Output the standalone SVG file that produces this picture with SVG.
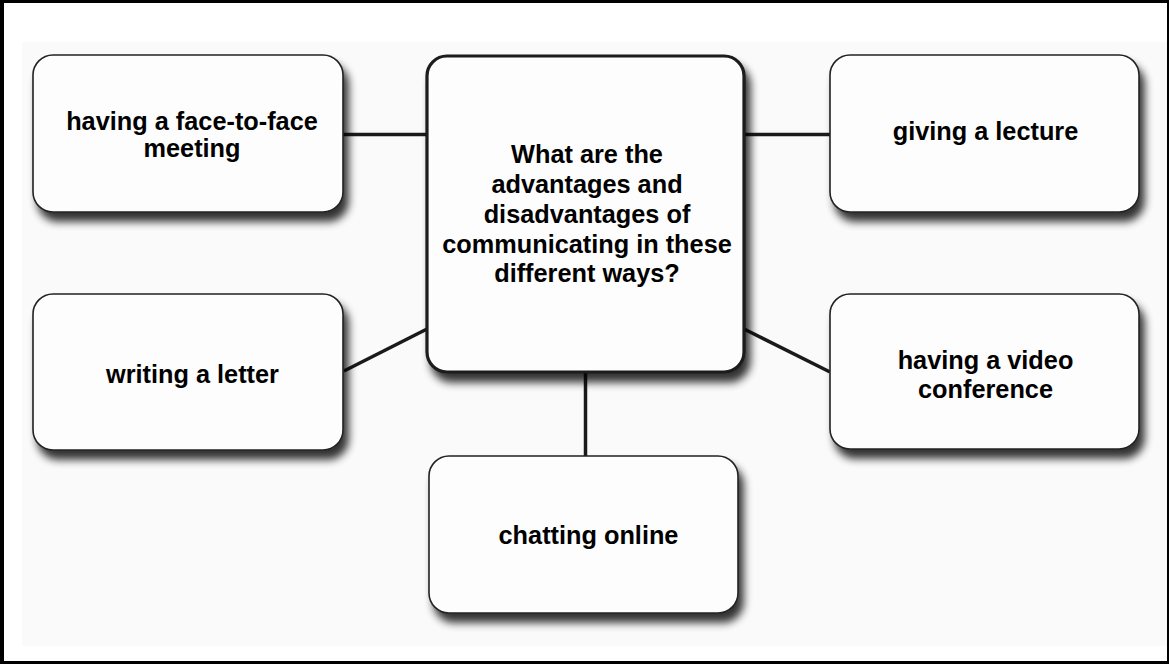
<svg xmlns="http://www.w3.org/2000/svg" width="1169" height="664" viewBox="0 0 1169 664">
<defs>
<filter id="shadow" x="-10%" y="-10%" width="130%" height="140%">
<feGaussianBlur in="SourceAlpha" stdDeviation="4.5"/>
<feOffset dx="5" dy="9" result="b"/>
<feComponentTransfer><feFuncA type="linear" slope="0.8"/></feComponentTransfer>
<feMerge><feMergeNode/><feMergeNode in="SourceGraphic"/></feMerge>
</filter>
<style>
.node{fill:#fdfdfd;stroke:#222;stroke-width:1.6;filter:url(#shadow)}
.main{fill:#fdfdfd;stroke:#1a1a1a;stroke-width:3.2;filter:url(#shadow)}
.lbl{font-family:"Liberation Sans",Arial,sans-serif;font-weight:bold;font-size:25.3px;fill:#000;text-anchor:middle}
.conn{stroke:#1a1a1a;stroke-width:3.5;fill:none}
</style>
</defs>
<rect x="0" y="0" width="1169" height="664" fill="#000"/>
<rect x="4" y="3" width="1163" height="658" fill="#fff"/>
<rect x="22" y="42" width="1145" height="604" fill="#fafafa"/>
<g id="connectors">
<line class="conn" x1="343" y1="134.5" x2="427" y2="134.5"/>
<line class="conn" x1="744" y1="134.5" x2="830" y2="134.5"/>
<line class="conn" x1="344" y1="371" x2="427" y2="329"/>
<line class="conn" x1="744" y1="329" x2="830" y2="372"/>
<line class="conn" x1="585.5" y1="372" x2="585.5" y2="457"/>
</g>
<g id="node-face">
<rect class="node" x="33" y="55" width="310" height="157" rx="20"/>
<text class="lbl" x="192" y="129.5">having a face-to-face</text>
<text class="lbl" x="192" y="156.5">meeting</text>
</g>
<g id="node-center">
<rect class="main" x="427" y="56" width="317" height="316" rx="20"/>
<text class="lbl" x="587" y="162.5">What are the</text>
<text class="lbl" x="587" y="192.5">advantages and</text>
<text class="lbl" x="587" y="222.5">disadvantages of</text>
<text class="lbl" x="587" y="252.5">communicating in these</text>
<text class="lbl" x="587" y="281.5">different ways?</text>
</g>
<g id="node-lecture">
<rect class="node" x="830" y="55" width="309" height="157" rx="20"/>
<text class="lbl" x="985.5" y="140">giving a lecture</text>
</g>
<g id="node-letter">
<rect class="node" x="33" y="294" width="310" height="156" rx="20"/>
<text class="lbl" x="192.5" y="383">writing a letter</text>
</g>
<g id="node-video">
<rect class="node" x="830" y="294" width="309" height="155" rx="20"/>
<text class="lbl" x="985.5" y="369">having a video</text>
<text class="lbl" x="985.5" y="398">conference</text>
</g>
<g id="node-chat">
<rect class="node" x="429" y="456" width="309" height="157" rx="20"/>
<text class="lbl" x="588.5" y="544">chatting online</text>
</g>
</svg>
